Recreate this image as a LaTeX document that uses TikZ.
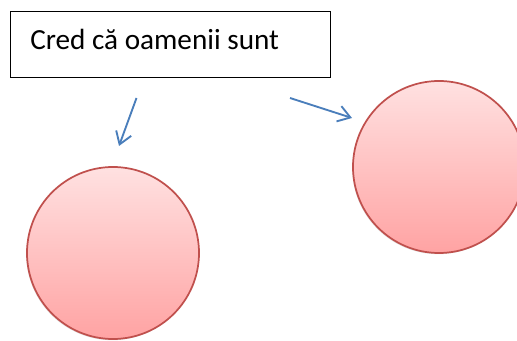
\documentclass[tikz,border=0pt]{standalone}
\usepackage{fontspec}
\setmainfont{Carlito}
\usetikzlibrary{arrows.meta,shadows}
\definecolor{ballEdge}{HTML}{C0504D}
\definecolor{ballTop}{HTML}{FFE1E1}
\definecolor{ballBottom}{HTML}{FFA3A3}
\definecolor{arrowBlue}{HTML}{4A7EBB}
\tikzset{
  ball/.style={circle, minimum size=172*0.75pt, inner sep=0pt,
    draw=ballEdge, line width=1.3pt, top color=ballTop, bottom color=ballBottom,
    drop shadow={opacity=0.25, shadow xshift=-0.6pt, shadow yshift=-0.9pt}},
  pointer/.style={draw=arrowBlue, line width=1.4pt,
    -{Straight Barb[length=9pt,width=12pt,line width=1.4pt]}},
  textbox/.style={draw=black, line width=0.7pt, inner sep=0pt, anchor=north west,
    minimum width=320*0.75pt, minimum height=66*0.75pt},
}
\begin{document}
\begin{tikzpicture}[x=0.75pt,y=-0.75pt]
  \useasboundingbox (0,0) rectangle (517,341);
  \begin{scope}
    \clip (0,0) rectangle (517,341);
    % title box
    \node[textbox] (title) at (9.5,11) {};
    \node[anchor=base west, inner sep=0pt, font=\fontsize{21.9}{26}\selectfont]
      (caption) at (30,50) {Cred că oamenii sunt};
    % circles
    \node[ball] (left) at (113,253) {};
    \node[ball] (right) at (439,167) {};
    % pointers
    \coordinate (p1s) at (136.5,98);
    \coordinate (p1e) at (119,146);
    \coordinate (p2s) at (290,98);
    \coordinate (p2e) at (352,118);
    \draw[pointer] (p1s) -- (p1e);
    \draw[pointer] (p2s) -- (p2e);
  \end{scope}
\end{tikzpicture}
\end{document}
